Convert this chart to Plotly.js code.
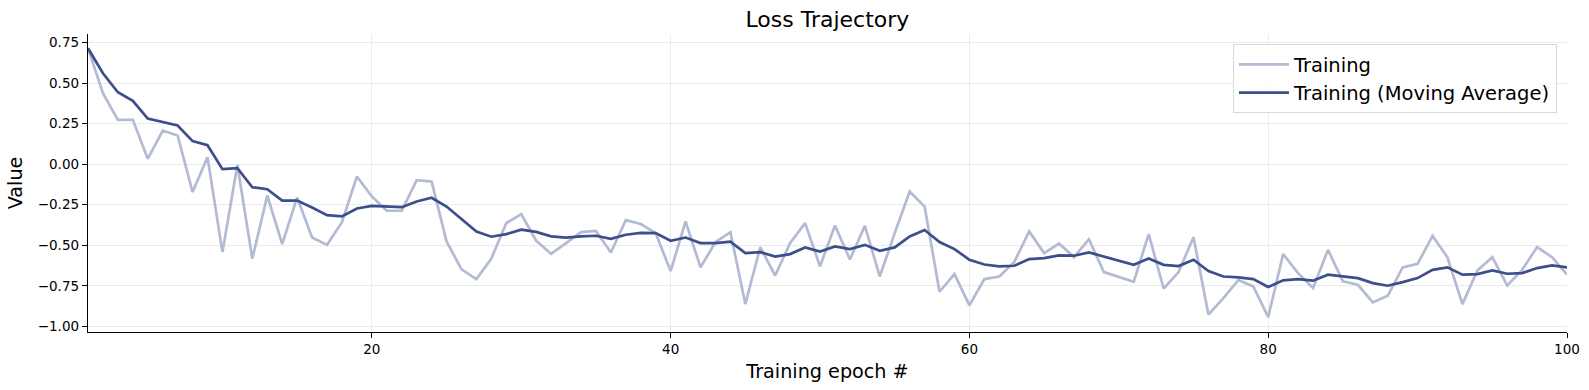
<!DOCTYPE html>
<html>
<head>
<meta charset="utf-8">
<script src="https://cdn.plot.ly/plotly-3.0.1.min.js"></script>
<style>html,body{margin:0;padding:0;background:#fff;}#chart{width:1589px;height:390px;}</style>
</head>
<body>
<div id="chart"></div>
<script>
const epochs = [1,2,3,4,5,6,7,8,9,10,11,12,13,14,15,16,17,18,19,20,
  21,22,23,24,25,26,27,28,29,30,31,32,33,34,35,36,37,38,39,40,
  41,42,43,44,45,46,47,48,49,50,51,52,53,54,55,56,57,58,59,60,
  61,62,63,64,65,66,67,68,69,70,71,72,73,74,75,76,77,78,79,80,
  81,82,83,84,85,86,87,88,89,90,91,92,93,94,95,96,97,98,99,100];

const training = [0.714,0.437,0.273,0.273,0.033,0.207,0.177,-0.172,0.043,-0.542,
  -0.005,-0.583,-0.193,-0.493,-0.205,-0.452,-0.497,-0.357,-0.076,-0.199,
  -0.287,-0.287,-0.099,-0.107,-0.476,-0.648,-0.708,-0.581,-0.363,-0.308,
  -0.472,-0.552,-0.486,-0.419,-0.411,-0.544,-0.345,-0.369,-0.425,-0.659,
  -0.353,-0.636,-0.480,-0.419,-0.862,-0.511,-0.686,-0.486,-0.363,-0.630,
  -0.378,-0.587,-0.380,-0.692,-0.425,-0.168,-0.261,-0.786,-0.677,-0.870,
  -0.708,-0.692,-0.603,-0.415,-0.548,-0.489,-0.573,-0.462,-0.665,-0.694,
  -0.725,-0.431,-0.766,-0.665,-0.450,-0.926,-0.825,-0.714,-0.753,-0.942,
  -0.554,-0.671,-0.764,-0.528,-0.722,-0.743,-0.852,-0.811,-0.636,-0.614,
  -0.441,-0.575,-0.862,-0.655,-0.573,-0.747,-0.651,-0.511,-0.573,-0.681];

const movingAverage = [0.714,0.560,0.443,0.390,0.281,0.261,0.238,0.142,0.117,-0.031,
  -0.025,-0.142,-0.154,-0.224,-0.224,-0.267,-0.314,-0.322,-0.273,-0.257,
  -0.261,-0.265,-0.230,-0.207,-0.261,-0.339,-0.415,-0.447,-0.431,-0.404,
  -0.417,-0.445,-0.452,-0.445,-0.441,-0.460,-0.435,-0.423,-0.425,-0.472,
  -0.452,-0.486,-0.486,-0.478,-0.548,-0.542,-0.569,-0.554,-0.513,-0.538,
  -0.507,-0.523,-0.497,-0.534,-0.513,-0.445,-0.406,-0.480,-0.523,-0.589,
  -0.618,-0.630,-0.626,-0.585,-0.579,-0.562,-0.564,-0.544,-0.569,-0.593,
  -0.620,-0.581,-0.620,-0.628,-0.589,-0.658,-0.692,-0.697,-0.708,-0.757,
  -0.716,-0.708,-0.718,-0.681,-0.692,-0.702,-0.733,-0.749,-0.727,-0.702,
  -0.651,-0.636,-0.681,-0.677,-0.655,-0.675,-0.671,-0.640,-0.624,-0.636];

const xTicks = [20,40,60,80,100];
const yTicks = [-1.0,-0.75,-0.5,-0.25,0,0.25,0.5,0.75];

const FONT = 'DejaVu Sans, sans-serif';

const traces = [
  {x: epochs, y: training, type: 'scatter', mode: 'lines', name: 'Training',
   line: {color: '#b3bbd4', width: 2.7}},
  {x: epochs, y: movingAverage, type: 'scatter', mode: 'lines', name: 'Training (Moving Average)',
   line: {color: '#3d4f8a', width: 2.7}}
];

const layout = {
  width: 1589, height: 390,
  margin: {l: 88, r: 22, t: 34, b: 58, pad: 0},
  paper_bgcolor: '#ffffff', plot_bgcolor: '#ffffff',
  font: {family: FONT, color: '#000000', size: 13.5},
  title: {text: 'Loss Trajectory', font: {family: FONT, size: 22, color: '#000'},
          x: 0.5207, xref: 'container', xanchor: 'center', y: 0.95, yref: 'container', yanchor: 'middle'},
  xaxis: {
    range: [1, 100], tickvals: xTicks, ticktext: xTicks.map(String),
    showgrid: true, gridcolor: '#ebebeb', gridwidth: 1,
    zeroline: false, showline: true, linecolor: '#000', linewidth: 1.2,
    ticks: 'outside', ticklen: 5, tickwidth: 1, tickcolor: '#000',
    tickfont: {family: FONT, size: 13.5, color: '#000'},
    title: {text: 'Training epoch #', font: {family: FONT, size: 19.2, color: '#000'}, standoff: 8},
    automargin: false
  },
  yaxis: {
    range: [-1.034, 0.802], tickvals: yTicks, tickformat: '.2f',
    showgrid: true, gridcolor: '#ebebeb', gridwidth: 1,
    zeroline: false, showline: true, linecolor: '#000', linewidth: 1.2,
    ticks: 'outside', ticklen: 5, tickwidth: 1, tickcolor: '#000',
    tickfont: {family: FONT, size: 13.5, color: '#000'},
    title: {text: 'Value', font: {family: FONT, size: 19.2, color: '#000'}, standoff: 10},
    automargin: false
  },
  showlegend: true,
  legend: {
    x: 0.9932, y: 0.966, xanchor: 'right', yanchor: 'top',
    itemwidth: 50,
    bgcolor: 'rgba(255,255,255,0.8)', bordercolor: '#d9d9d9', borderwidth: 1,
    font: {family: FONT, size: 19.5, color: '#000'}
  }
};

Plotly.newPlot('chart', traces, layout, {displayModeBar: false, staticPlot: true});
</script>
</body>
</html>
